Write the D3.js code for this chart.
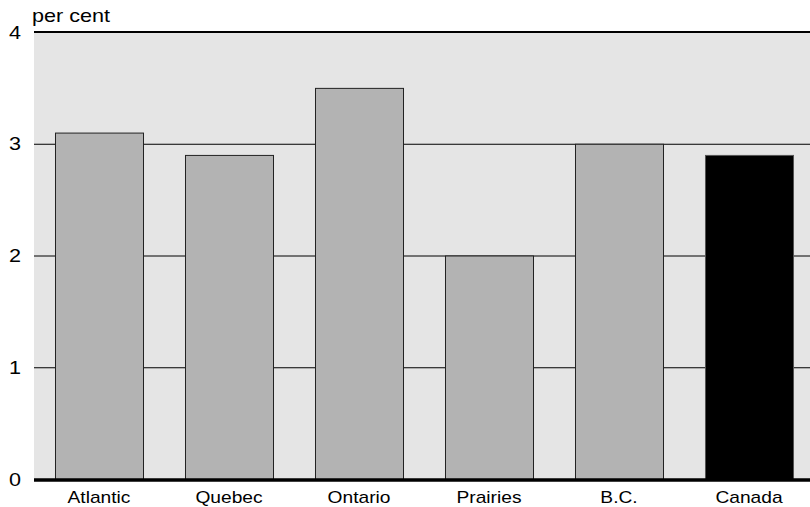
<!DOCTYPE html>
<html><head><meta charset="utf-8">
<script src="https://cdn.jsdelivr.net/npm/d3@7"></script>
<style>body{margin:0;background:#fff}svg{display:block;font-family:"Liberation Sans",Arial,Helvetica,sans-serif}</style>
</head><body><svg id="c" width="810" height="507"></svg>
<script>
const categories = ["Atlantic","Quebec","Ontario","Prairies","B.C.","Canada"];
const values = [3.1, 2.9, 3.5, 2.0, 3.0, 2.9];
const yTicks = [0,1,2,3,4];
const unitLabel = "per cent";

(function(){
const svg = d3.select("#c");
const mLeft = 34, mRight = 814, mTop = 32, mBottom = 479;
const sx = 1.2;
const x = d3.scaleBand().domain(categories).range([mLeft, mRight]).paddingInner(0.323).paddingOuter(0.1615);
const y = d3.scaleLinear().domain([0,4]).range([mBottom, mTop]);

svg.append("rect").attr("x", mLeft).attr("y", mTop).attr("width", 810-mLeft).attr("height", mBottom-mTop).attr("fill", "#e5e5e5");

svg.append("g").selectAll("line").data(yTicks.filter(d => d>0 && d<4)).join("line")
  .attr("x1", mLeft).attr("x2", 810).attr("y1", d => y(d)+0.5).attr("y2", d => y(d)+0.5)
  .attr("stroke", "#000").attr("stroke-width", 1);

svg.append("line").attr("x1", mLeft).attr("x2", 810).attr("y1", y(4)).attr("y2", y(4)).attr("stroke", "#000").attr("stroke-width", 2);

svg.append("g").selectAll("rect").data(values).join("rect")
  .attr("x", (d,i) => x(categories[i])+0.5).attr("width", x.bandwidth())
  .attr("y", d => y(d)+0.5).attr("height", d => mBottom - y(d))
  .attr("fill", (d,i) => categories[i]==="Canada" ? "#000" : "#b3b3b3")
  .attr("stroke", (d,i) => categories[i]==="Canada" ? "#555" : "#222").attr("stroke-width", 1);

svg.append("line").attr("x1", mLeft).attr("x2", 810).attr("y1", mBottom+1).attr("y2", mBottom+1).attr("stroke", "#000").attr("stroke-width", 3.5);

svg.append("g").selectAll("text").data(yTicks).join("text")
  .attr("transform", d => `translate(15,${y(d)+6.5}) scale(${sx},1)`).attr("text-anchor", "middle")
  .attr("font-size", 18).attr("fill", "#000").text(d => d);

svg.append("text").attr("transform", `translate(32,22) scale(${sx},1)`).attr("font-size", 18).attr("fill", "#000").text(unitLabel);

svg.append("g").selectAll("text").data(categories).join("text")
  .attr("transform", d => `translate(${x(d) + x.bandwidth()/2},503) scale(${sx},1)`).attr("text-anchor", "middle")
  .attr("font-size", 16).attr("fill", "#000").text(d => d);
})();
</script></body></html>
